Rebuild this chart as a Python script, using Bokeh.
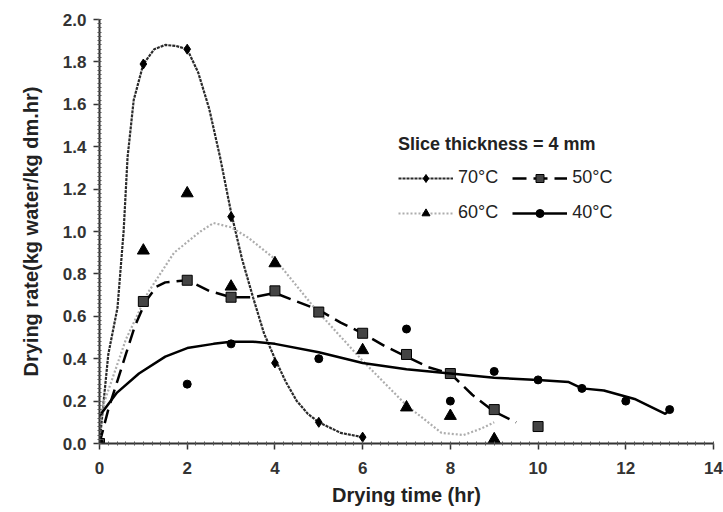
from bokeh.plotting import figure
from bokeh.models import Legend, LegendItem, Range1d, SingleIntervalTicker, NumeralTickFormatter
from bokeh.embed import file_html
from bokeh.resources import INLINE

# ---- measured points ----
t70 = [0, 1, 2, 3, 4, 5, 6]
r70 = [0.0, 1.79, 1.86, 1.07, 0.38, 0.10, 0.03]

t60 = [0, 1, 2, 3, 4, 6, 7, 8, 9]
r60 = [0.0, 0.91, 1.18, 0.74, 0.85, 0.44, 0.17, 0.13, 0.02]

t50 = [0, 1, 2, 3, 4, 5, 6, 7, 8, 9, 10]
r50 = [0.0, 0.67, 0.77, 0.69, 0.72, 0.62, 0.52, 0.42, 0.33, 0.16, 0.08]

t40 = [0, 2, 3, 5, 7, 8, 9, 10, 11, 12, 13]
r40 = [0.0, 0.28, 0.47, 0.40, 0.54, 0.20, 0.34, 0.30, 0.26, 0.20, 0.16]

# ---- fitted curves ----
c70_t = [0, 0.2, 0.41, 0.55, 0.64, 0.78, 1.0, 1.25, 1.5, 1.75, 2.0, 2.25, 2.5, 2.75, 3.0, 3.25, 3.5, 3.75, 4.0, 4.25, 4.5, 4.75, 5.0, 5.5, 6.0]
c70_r = [0.0, 0.42, 0.64, 1.0, 1.35, 1.62, 1.79, 1.86, 1.88, 1.875, 1.86, 1.75, 1.58, 1.35, 1.09, 0.87, 0.69, 0.52, 0.40, 0.29, 0.20, 0.14, 0.10, 0.05, 0.03]

c60_t = [0, 0.1, 0.6, 1.1, 1.7, 2.3, 2.6, 3.0, 3.4, 4.0, 4.9, 6.0, 7.0, 7.8, 8.3, 8.7, 9.0]
c60_r = [0.10, 0.19, 0.49, 0.71, 0.90, 1.00, 1.04, 1.02, 0.97, 0.87, 0.64, 0.39, 0.18, 0.05, 0.04, 0.07, 0.10]

c50_t = [0, 0.2, 0.4, 0.6, 0.8, 1.05, 1.3, 1.5, 2.0, 2.5, 3.0, 3.5, 4.0, 4.5, 5.0, 5.5, 6.0, 6.5, 7.0, 7.5, 8.0, 8.5, 9.0, 9.5]
c50_r = [0.0, 0.16, 0.29, 0.42, 0.55, 0.67, 0.74, 0.76, 0.77, 0.72, 0.69, 0.69, 0.71, 0.67, 0.63, 0.57, 0.52, 0.46, 0.41, 0.36, 0.33, 0.23, 0.15, 0.10]

c40_t = [0, 0.4, 0.9, 1.5, 2.0, 2.6, 3.0, 3.5, 4.0, 5.0, 6.0, 7.0, 8.0, 9.0, 10.0, 10.7, 11.0, 11.5, 12.2, 12.9, 13.0]
c40_r = [0.13, 0.24, 0.33, 0.41, 0.45, 0.47, 0.48, 0.48, 0.47, 0.43, 0.38, 0.35, 0.33, 0.31, 0.30, 0.29, 0.26, 0.25, 0.21, 0.14, 0.16]

labels = ["70\u00b0C", "60\u00b0C", "50\u00b0C", "40\u00b0C"]
legend_title = "Slice thickness = 4 mm"
x_title = "Drying time (hr)"
y_title = "Drying rate(kg water/kg dm.hr)"

FONT = "Liberation Sans"

p = figure(width=723, height=512, x_range=Range1d(0, 14), y_range=Range1d(0, 2),
           min_border_left=99, min_border_right=10, min_border_top=19, min_border_bottom=69,
           output_backend="svg", toolbar_location=None, outline_line_color=None)
p.grid.visible = False

l70 = p.line(c70_t, c70_r, line_color="#2a2a2a", line_width=2.2, line_dash="3 1")
m70 = p.scatter(t70, r70, marker="diamond", size=10, fill_color="black", line_color="black")

l60 = p.line(c60_t, c60_r, line_color="#adadad", line_width=2.2, line_dash="2 2")
m60 = p.scatter(t60, r60, marker="triangle", size=12, fill_color="black", line_color="black")

l50 = p.line(c50_t, c50_r, line_color="black", line_width=2.5, line_dash="14 7")
m50 = p.scatter(t50, r50, marker="square", size=10, fill_color="#444444", line_color="black")

l40 = p.line(c40_t, c40_r, line_color="black", line_width=2.5)
m40 = p.scatter(t40, r40, marker="circle", size=8, fill_color="black", line_color="black")

items = [
    LegendItem(label=labels[0], renderers=[l70, m70]),
    LegendItem(label=labels[1], renderers=[l60, m60]),
    LegendItem(label=labels[2], renderers=[l50, m50]),
    LegendItem(label=labels[3], renderers=[l40, m40]),
]
legend = Legend(items=items, ncols=2, location=(299, 220), title=legend_title,
                title_text_font=FONT, title_text_font_style="bold", title_text_font_size="18px",
                title_text_color="#222222", title_standoff=12,
                label_text_font=FONT, label_text_font_size="18px", label_text_color="#222222",
                glyph_width=55, glyph_height=20, spacing=14, label_standoff=5,
                border_line_color=None, background_fill_alpha=0, padding=4, margin=0)
p.add_layout(legend, "center")

for ax in (p.xaxis[0], p.yaxis[0]):
    ax.axis_line_width = 2
    ax.axis_line_color = "#333333"
    ax.major_tick_line_color = "#333333"
    ax.major_tick_line_width = 1.5
    ax.minor_tick_line_color = "#555555"
    ax.major_tick_in = 0
    ax.major_tick_out = 6
    ax.minor_tick_in = 2
    ax.minor_tick_out = 2
    ax.major_label_text_font = FONT
    ax.major_label_text_font_style = "bold"
    ax.major_label_text_font_size = "17px"
    ax.major_label_text_color = "#333333"
    ax.axis_label_text_font = FONT
    ax.axis_label_text_font_style = "bold"
    ax.axis_label_text_font_size = "20px"
    ax.axis_label_text_color = "#222222"

p.xaxis[0].ticker = SingleIntervalTicker(interval=2, num_minor_ticks=10)
p.yaxis[0].ticker = SingleIntervalTicker(interval=0.2, num_minor_ticks=10)
p.yaxis[0].formatter = NumeralTickFormatter(format="0.0")
p.xaxis[0].major_label_standoff = 12
p.yaxis[0].major_label_standoff = 7
p.xaxis[0].axis_label_standoff = 7
p.yaxis[0].axis_label_standoff = 18
p.xaxis[0].axis_label = x_title
p.yaxis[0].axis_label = y_title

open("out.html", "w").write(file_html(p, INLINE))
